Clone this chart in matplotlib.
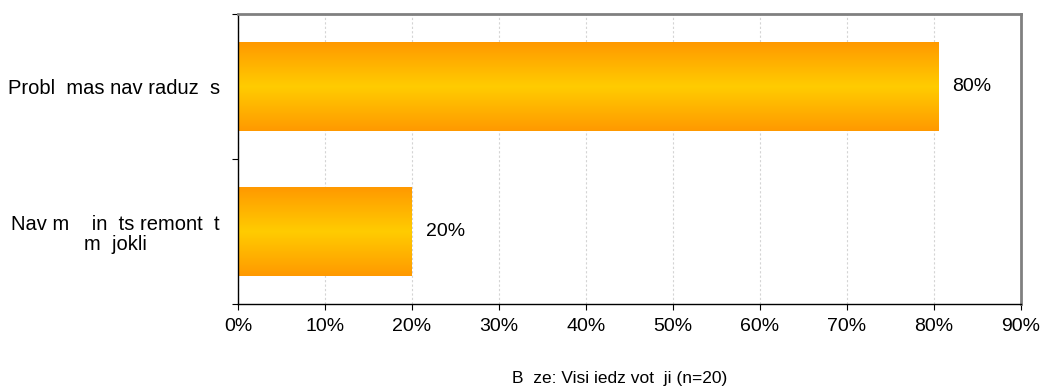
import numpy as np
import matplotlib
matplotlib.use("Agg")
import matplotlib.pyplot as plt
from matplotlib.colors import LinearSegmentedColormap

plt.rcParams["font.family"] = ["Liberation Sans", "DejaVu Sans"]

categories = ["Probl  mas nav raduz  s", "Nav m    in  ts remont  t\nm  jokli"]
values = [80.5, 20.0]
value_labels = ["80%", "20%"]
x_ticks = [0, 10, 20, 30, 40, 50, 60, 70, 80, 90]
footnote = "B  ze: Visi iedz vot  ji (n=20)"

fig = plt.figure(figsize=(10.42, 3.88), dpi=100)
ax = fig.add_axes([238 / 1042, 1 - 304 / 388, 783 / 1042, 290 / 388])

# orange edges, yellow middle
grad = LinearSegmentedColormap.from_list("bar", ["#FF9900", "#FFCC00", "#FF9900"])
strip = np.linspace(0, 1, 256).reshape(-1, 1)

bar_h = 0.61
y_pos = np.arange(len(categories))
for y, v in zip(y_pos, values):
    ax.imshow(strip, cmap=grad, aspect="auto", interpolation="bicubic",
              extent=(0, v, y - bar_h / 2, y + bar_h / 2), zorder=2)
    ax.text(v + 1.6, y, value_labels[y], va="center", ha="left", fontsize=14)

ax.set_xlim(0, 90)
ax.set_ylim(len(categories) - 0.5, -0.5)
ax.set_xticks(x_ticks)
ax.set_xticklabels([f"{t}%" for t in x_ticks], fontsize=14)
ax.set_yticks([-0.5, 0.5, 1.5])
ax.set_yticklabels([])
ax.set_yticks(y_pos, minor=True)
ax.set_yticklabels(categories, minor=True, fontsize=14.5, multialignment="center",
                   linespacing=1.1)
ax.tick_params(axis="y", which="minor", length=0, pad=13)
ax.tick_params(axis="y", which="major", length=4, direction="out", color="black")
ax.tick_params(axis="x", length=4, direction="out", pad=6)

ax.grid(axis="x", color="#d4d4d4", linestyle=(0, (2, 2)), linewidth=0.8, zorder=0)
ax.set_axisbelow(True)

for side in ("top", "right"):
    ax.spines[side].set_color("#808080")
    ax.spines[side].set_linewidth(2)
for side in ("left", "bottom"):
    ax.spines[side].set_color("black")
    ax.spines[side].set_linewidth(1)

fig.text(620 / 1042, 1 - 379 / 388, footnote, ha="center", va="center", fontsize=12.5)

fig.savefig("out.png", dpi=100)
